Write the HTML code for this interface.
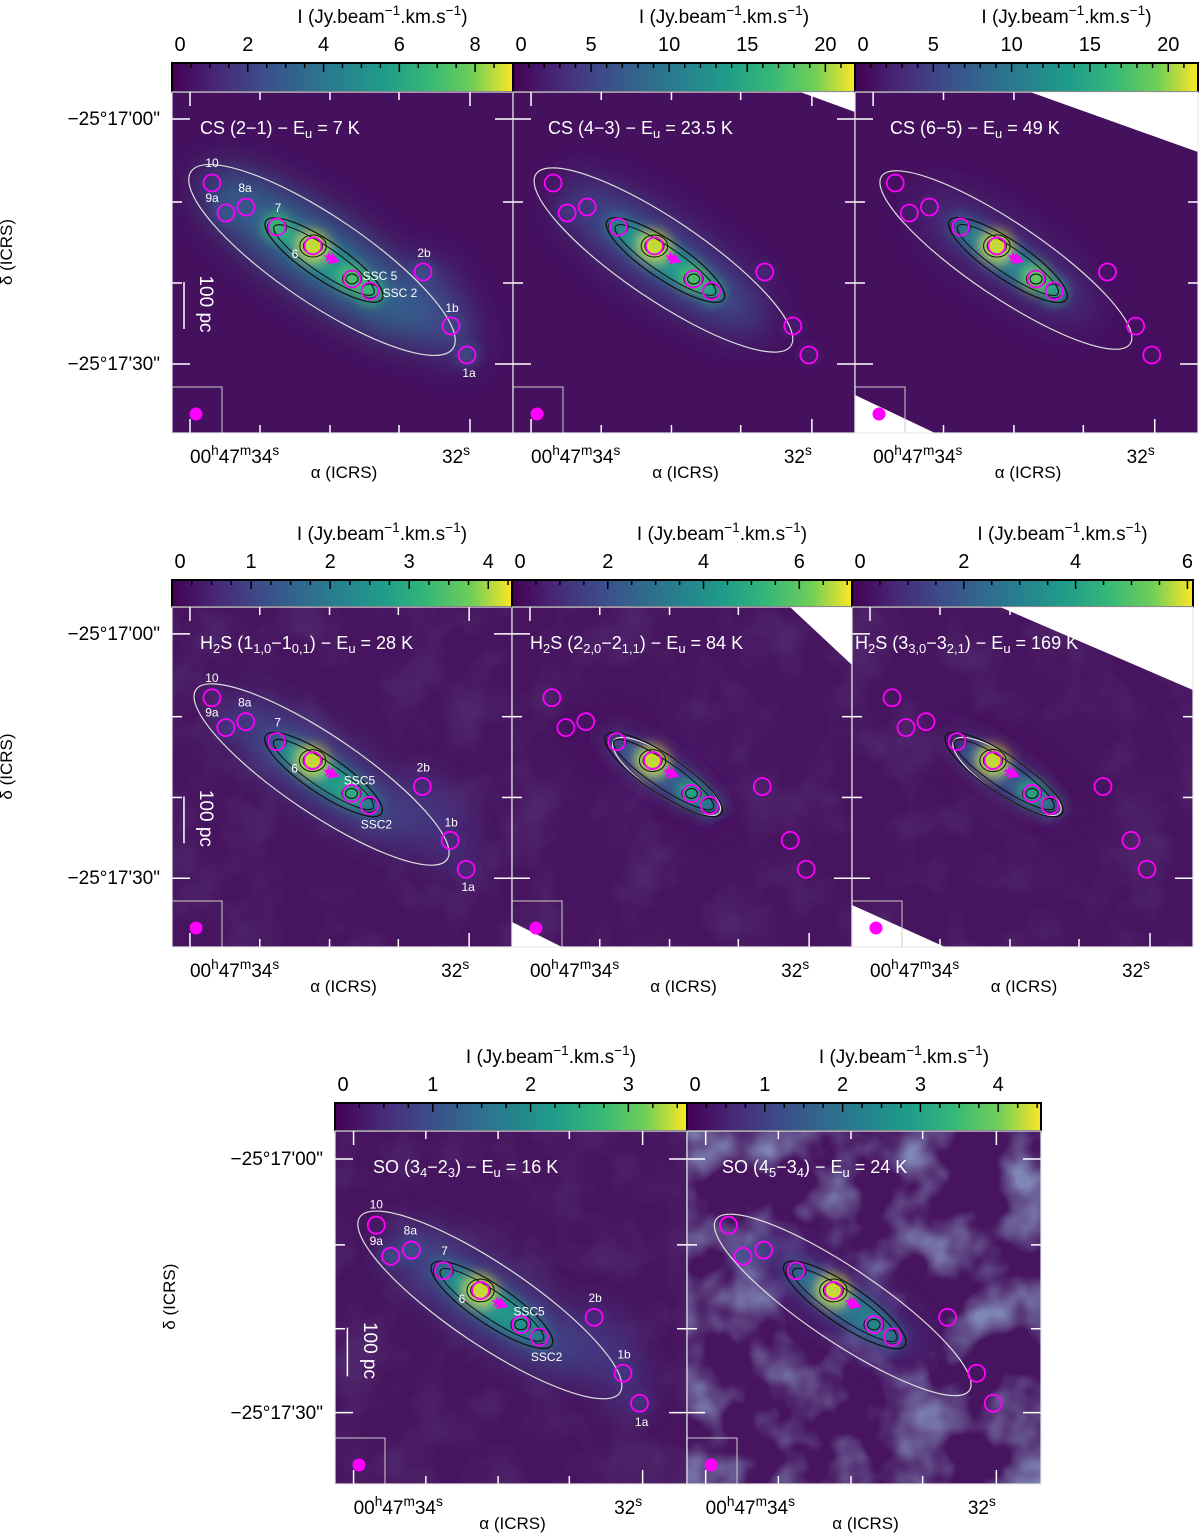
<!DOCTYPE html>
<html><head><meta charset="utf-8"><style>
body{margin:0;background:#fff;}
svg{display:block;font-family:"Liberation Sans",sans-serif;}
</style></head><body>
<svg id="fig" width="1200" height="1533" viewBox="0 0 1200 1533" xmlns="http://www.w3.org/2000/svg">
<defs>
<linearGradient id="viridis" x1="0" x2="1" y1="0" y2="0">
<stop offset="0" stop-color="#440154"/><stop offset="0.13" stop-color="#482878"/><stop offset="0.25" stop-color="#3e4989"/><stop offset="0.38" stop-color="#31688e"/><stop offset="0.5" stop-color="#26828e"/><stop offset="0.63" stop-color="#1f9e89"/><stop offset="0.75" stop-color="#35b779"/><stop offset="0.88" stop-color="#6ece58"/><stop offset="1" stop-color="#fde725"/>
</linearGradient>
<filter id="blurBig" x="-50%" y="-50%" width="200%" height="200%"><feGaussianBlur stdDeviation="18"/></filter>
<filter id="blurMid" x="-50%" y="-50%" width="200%" height="200%"><feGaussianBlur stdDeviation="6"/></filter>
<filter id="blurSm" x="-50%" y="-50%" width="200%" height="200%"><feGaussianBlur stdDeviation="3"/></filter>
<filter id="mottle" x="0" y="0" width="100%" height="100%">
<feTurbulence type="fractalNoise" baseFrequency="0.018" numOctaves="3" seed="4"/>
<feColorMatrix type="matrix" values="0 0 0 0 0.25  0 0 0 0 0.33  0 0 0 0 0.56  0 0 0 -2.6 1.45"/>
</filter>
</defs>
</svg>
<script>
// colorbar data
const cbMax = [9.0, 21.9, 21.9, 4.3, 7.1, 6.1, 3.6, 4.55];
const cbLabels = [[0,2,4,6,8],[0,5,10,15,20],[0,5,10,15,20],[0,1,2,3,4],[0,2,4,6],[0,2,4,6],[0,1,2,3],[0,1,2,3,4]];
const cbMinor = [0.5,1,1,0.25,0.5,0.5,0.25,0.25];
// source intensity (fraction of colormap) per panel: 7, 6, SSC5, SSC2, 9a, 8a, 2b, 1b, 1a
const srcNames = ['7','6','SSC5','SSC2','9a','8a','2b','1b','1a'];
const srcInt = [
 [0.8,1.0,0.85,0.8,0.32,0.3,0.3,0.25,0.3],
 [0.55,1.0,0.85,0.7,0.2,0.18,0.15,0.12,0.12],
 [0.45,1.0,0.9,0.7,0.1,0.1,0.08,0.05,0.05],
 [0.35,1.0,0.75,0.5,0.2,0.2,0.15,0.15,0.15],
 [0.25,1.0,0.7,0.5,0.05,0.05,0,0,0],
 [0.1,1.0,0.7,0.45,0,0,0,0,0],
 [0.45,1.0,0.6,0.5,0.3,0.3,0.15,0.2,0.2],
 [0.35,1.0,0.55,0.45,0.25,0.25,0,0,0]
];
const haloInt = [0.3,0.22,0.15,0.2,0.06,0.05,0.2,0.12];
const titles = [
 ['CS (2−1) − E','u',' = 7 K'],['CS (4−3) − E','u',' = 23.5 K'],['CS (6−5) − E','u',' = 49 K'],
 ['H2S (11,0−10,1) − E','u',' = 28 K'],['H2S (22,0−21,1) − E','u',' = 84 K'],['H2S (33,0−32,1) − E','u',' = 169 K'],
 ['SO (34−23) − E','u',' = 16 K'],['SO (45−34) − E','u',' = 24 K']
];
// source positions on 341-px panel scale
const srcPos = {'10':[40,91],'9a':[54,121],'8a':[74,115],'7':[105,135],'6':[141,154],'SSC5':[180,187],'SSC2':[198,199],'2b':[251,180],'1b':[279,234],'1a':[295,263]};
const circleNames = ['10','9a','8a','7','6','SSC5','SSC2','2b','1b','1a'];

const panels = [
 {x:172,y:92,w:341,h:341,cbY:63,left:true,lab:'cs'},
 {x:513,y:92,w:342,h:341,cbY:63,wedge:[[800,92],[855,92],[855,112]]},
 {x:855,y:92,w:343,h:341,cbY:63,wedge:[[1030,92],[1198,92],[1198,152]],wedge2:[[855,395],[855,433],[935,433]]},
 {x:172,y:607,w:340,h:340,cbY:580,left:true,lab:'h2s'},
 {x:512,y:607,w:340,h:340,cbY:580,wedge:[[790,607],[852,607],[852,665]],wedge2:[[512,922],[512,947],[562,947]]},
 {x:852,y:607,w:341,h:340,cbY:580,wedge:[[1000,607],[1193,607],[1193,690]],wedge2:[[852,905],[852,947],[945,947]]},
 {x:335,y:1131,w:352,h:353,cbY:1103,left:true,lab:'so'},
 {x:687,y:1131,w:354,h:353,cbY:1103,mottle:true}
];
const vstops=[[0,[68,1,84]],[0.13,[72,40,120]],[0.25,[62,73,137]],[0.38,[49,104,142]],[0.5,[38,130,142]],[0.63,[31,158,137]],[0.75,[53,183,121]],[0.88,[110,206,88]],[1,[253,231,37]]];
function vir(t){t=Math.max(0,Math.min(1,t));for(let i=1;i<vstops.length;i++){if(t<=vstops[i][0]){const a=vstops[i-1],b=vstops[i];const f=(t-a[0])/(b[0]-a[0]);const c=a[1].map((v,k)=>Math.round(v+(b[1][k]-v)*f));return 'rgb('+c.join(',')+')';}}return '#fde725';}
const NS='http://www.w3.org/2000/svg';
const svg=document.getElementById('fig');
function el(tag,attrs,parent){const e=document.createElementNS(NS,tag);for(const k in attrs)e.setAttribute(k,attrs[k]);(parent||svg).appendChild(e);return e;}
function txt(x,y,s,size,parent,anchor,fill){const t=el('text',{x:x,y:y,'font-size':size,'text-anchor':anchor||'middle',fill:fill||'#000'},parent);t.textContent=s;return t;}
function sub(t,s,dy){const ts=el('tspan',{'font-size':'0.72em',dy:dy},t);ts.textContent=s;return ts;}

panels.forEach((p,i)=>{
 const g=el('g',{});
 
 
 const s=p.w/341;
 const X=v=>p.x+v*s, Y=v=>p.y+v*(p.h/341);
 // colorbar
 const cb=el('g',{},g);
 
 
 el('rect',{x:p.x,y:p.cbY,width:p.w,height:p.y-p.cbY,fill:'url(#viridis)',stroke:'#000','stroke-width':2},cb);
 const pxu=p.w/cbMax[i];
 for(let v=0;v<=cbMax[i]+1e-6;v+=cbMinor[i]){
  const major=cbLabels[i].some(l=>Math.abs(l-v)<1e-6);
  el('line',{x1:p.x+v*pxu,x2:p.x+v*pxu,y1:p.cbY,y2:p.cbY+(major?9:5),stroke:'#000','stroke-width':1.5},cb);
 }
 cbLabels[i].forEach(l=>{const t=txt(p.x+l*pxu+(l===0?8:0),p.cbY-12,String(l),20,cb);
  
  });
 const ct=txt(p.x+p.w/2+40,p.cbY-40,'I (Jy.beam',19,cb);
 
 
 sub(ct,'−1','-8');const c2=el('tspan',{dy:8},ct);c2.textContent='.km.s';sub(ct,'−1','-8');const c3=el('tspan',{dy:8},ct);c3.textContent=')';
 // image area
 const clipId='clip'+i;
 const cp=el('clipPath',{id:clipId},g);el('rect',{x:p.x,y:p.y,width:p.w,height:p.h},cp);
 const im=el('g',{'clip-path':'url(#'+clipId+')'},g);
 
 
 el('rect',{x:p.x,y:p.y,width:p.w,height:p.h,fill:i>=3?'#47155f':'#45105e'},im);
 if(p.mottle||i>=3){el('rect',{x:p.x,y:p.y,width:p.w,height:p.h,filter:'url(#mottle)',opacity:p.mottle?0.85:0.12},im);}
 const ang=34;
 // halo along ridge
 const hc=haloInt[i];
 const halo=el('g',{filter:'url(#blurBig)'},im);
 el('ellipse',{cx:X(150),cy:Y(165),rx:130*s*(0.5+hc*2),ry:36*s*(0.5+hc*2),fill:vir(hc*1.2),transform:`rotate(${ang} ${X(150)} ${Y(165)})`},halo);
 if(i===0||i===3||i===6){el('ellipse',{cx:X(270),cy:Y(220),rx:22*s,ry:55*s,fill:vir(hc*0.9),transform:`rotate(-25 ${X(270)} ${Y(220)})`},halo);}
 const core=el('g',{filter:'url(#blurMid)'},im);
 el('ellipse',{cx:X(152),cy:Y(167),rx:66*s,ry:17*s,fill:vir(Math.min(0.6,hc*2+0.2)),transform:`rotate(${ang} ${X(152)} ${Y(167)})`},core);
 srcNames.forEach((n,k)=>{const v=srcInt[i][k];if(v<=0)return;const [sx,sy]=srcPos[n];
  const b=el('circle',{cx:X(sx),cy:Y(sy),r:(8+v*7)*s,fill:vir(v*0.95)},core);
  
  });
 // contours
 const ct2=el('g',{fill:'none'},im);
 if(hc>0.1){el('ellipse',{cx:X(150),cy:Y(168),rx:(140+hc*60)*s,ry:(30+hc*45)*s,stroke:'#ddd','stroke-width':1.2,transform:`rotate(${ang} ${X(150)} ${Y(168)})`},ct2);}
 else{el('ellipse',{cx:X(155),cy:Y(170),rx:64*s,ry:19*s,stroke:'#ddd','stroke-width':1.2,transform:`rotate(${ang} ${X(155)} ${Y(170)})`},ct2);}
 el('ellipse',{cx:X(152),cy:Y(168),rx:70*s,ry:19*s,stroke:'#111','stroke-width':1.2,transform:`rotate(${ang} ${X(152)} ${Y(168)})`},ct2);
 el('ellipse',{cx:X(152),cy:Y(168),rx:60*s,ry:13*s,stroke:'#111','stroke-width':1,transform:`rotate(${ang} ${X(152)} ${Y(168)})`},ct2);
 [['6',[11,8,5]],['7',[8]],['SSC5',[8,5]],['SSC2',[7]]].forEach(([n,rs])=>{const [sx,sy]=srcPos[n];rs.forEach((r,j)=>el('ellipse',{cx:X(sx),cy:Y(sy),rx:r*s*1.2,ry:r*s,stroke:j==rs.length-1&&n==='6'?'#e8e000':'#111','stroke-width':1},ct2));});
 // circles
 circleNames.forEach(n=>{const [sx,sy]=srcPos[n];const c=el('circle',{cx:X(sx),cy:Y(sy),r:8.5,fill:'none',stroke:'#ff00ff','stroke-width':1.8},im);
  
  });
 // star & triangle
 const st=el('text',{x:X(157),y:Y(170),'font-size':15,fill:'#ff00ff','text-anchor':'middle'},im);st.textContent='★';
 
 el('polygon',{points:`${X(160)},${Y(161)} ${X(156)},${Y(172)} ${X(168)},${Y(170)}`,fill:'#ff00ff'},im);
 // labels on left panels
 if(p.left){const labs=[['10',40,75],['9a',40,110],['8a',73,100],['7',106,120],['6',123,166],['2b',252,165],['1b',280,220],['1a',297,285]];
  labs.forEach(([t,lx,ly])=>{const tt=txt(X(lx),Y(ly),t,12,im,'middle','#fff');});
  const s5=p.lab==='cs'?['SSC 5',208,188]:['SSC5',188,178]; const s2=p.lab==='cs'?['SSC 2',228,205]:['SSC2',205,222];
  [s5,s2].forEach(([t,lx,ly])=>{const tt=txt(X(lx),Y(ly),t,12,im,'middle','#fff');});
  el('line',{x1:X(12),x2:X(12),y1:Y(190),y2:Y(237),stroke:'#fff','stroke-width':1.5},im);
  const sb=txt(0,0,'100 pc',19,im,'middle','#fff');sb.setAttribute('transform',`translate(${X(28)},${Y(212)}) rotate(90)`);
  
 }
 if(p.wedge)el('polygon',{points:p.wedge.map(a=>a.join(',')).join(' '),fill:'#fff'},im);
 if(p.wedge2)el('polygon',{points:p.wedge2.map(a=>a.join(',')).join(' '),fill:'#fff'},im);
 // title
 const T=titles[i];const tx=p.x+(i%3===0&&i<6?28:i===4?18:i===5?3:i===6?38:35)*1, ty=p.y+42;
 let tt;
 if(T[0].startsWith('H2S')){tt=txt(tx,ty,'H',18,im,'start','#fff');sub(tt,'2','4');const m=T[0].match(/H2S \((\d)(\d,\d)−(\d)(\d,\d)\)/);
  const a=el('tspan',{dy:-4},tt);a.textContent='S ('+m[1];sub(tt,m[2],'4');const b=el('tspan',{dy:-4},tt);b.textContent='−'+m[3];sub(tt,m[4],'4');const c=el('tspan',{dy:-4},tt);c.textContent=') − E';}
 else if(T[0].startsWith('SO')){const m=T[0].match(/SO \((\d)(\d)−(\d)(\d)\)/);tt=txt(tx,ty,'SO ('+m[1],18,im,'start','#fff');sub(tt,m[2],'4');const b=el('tspan',{dy:-4},tt);b.textContent='−'+m[3];sub(tt,m[4],'4');const c=el('tspan',{dy:-4},tt);c.textContent=') − E';}
 else {tt=txt(tx,ty,T[0],18,im,'start','#fff');}
 sub(tt,'u','4');const e=el('tspan',{dy:-4},tt);e.textContent=T[2];
 
 // beam box
 el('rect',{x:p.x,y:p.y+p.h-46,width:50,height:46,fill:'none',stroke:'#ccc','stroke-width':1},im);
 const bm=el('circle',{cx:p.x+24,cy:p.y+p.h-19,r:6.5,fill:'#ff00ff'},im);
 
 // axis ticks
 const ax=el('g',{stroke:'#fff','stroke-width':1.5},g);
 [16,86,156,225,296].forEach((tx2,k)=>{const L=(k===0||k===4)?14:8;el('line',{x1:X(tx2+2),x2:X(tx2+2),y1:p.y,y2:p.y+L},ax);el('line',{x1:X(tx2+2),x2:X(tx2+2),y1:p.y+p.h,y2:p.y+p.h-L},ax);});
 [27,110,191,272].forEach((ty2,k)=>{const L=(k===0||k===3)?18:10;el('line',{x1:p.x,x2:p.x+L,y1:Y(ty2),y2:Y(ty2)},ax);el('line',{x1:p.x+p.w,x2:p.x+p.w-L,y1:Y(ty2),y2:Y(ty2)},ax);});
 el('rect',{x:p.x,y:p.y,width:p.w,height:p.h,fill:'none',stroke:'#e8e8e8','stroke-width':1.2},g);
 // x axis labels
 const xl=txt(X(18),p.y+p.h+30,'00',19,g,'start');sub(xl,'h','-8');const a1=el('tspan',{dy:8},xl);a1.textContent='47';sub(xl,'m','-8');const a2=el('tspan',{dy:8},xl);a2.textContent='34';sub(xl,'s','-8');
 
 const x2=txt(X(284),p.y+p.h+30,'32',19,g,'middle');sub(x2,'s','-8');
 
 const xa=txt(X(172),p.y+p.h+45,'α (ICRS)',17,g,'middle');
 
 if(p.left){
  const y1=txt(p.x-12,Y(33),'−25°17\'00"',19,g,'end');
  const y2=txt(p.x-12,Y(278),'−25°17\'30"',19,g,'end');
  const ya=txt(0,0,'δ (ICRS)',17,g,'middle');ya.setAttribute('transform',`translate(${p.x-160},${Y(160)}) rotate(-90)`);
  
 }
});
</script>
</body></html>
